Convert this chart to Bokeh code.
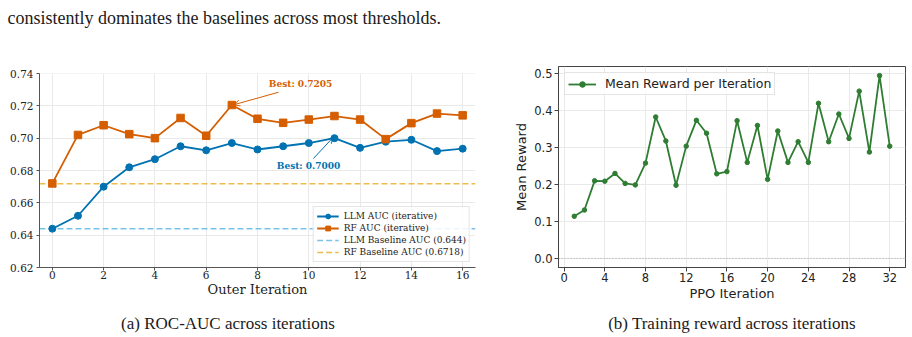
from bokeh.plotting import figure
from bokeh.layouts import row, column
from bokeh.models import (Range1d, Label, Arrow, OpenHead, Span, FixedTicker,
                          NumeralTickFormatter, BoxAnnotation)
from bokeh.embed import file_html
from bokeh.resources import INLINE

# ---------------- data ----------------
outer_iter = list(range(17))
llm_auc = [0.644, 0.652, 0.670, 0.682, 0.687, 0.695, 0.6925, 0.697, 0.693, 0.695,
           0.697, 0.700, 0.694, 0.6978, 0.699, 0.692, 0.6935]
rf_auc = [0.672, 0.702, 0.708, 0.7025, 0.700, 0.7125, 0.7015, 0.7205, 0.712, 0.7095,
          0.7115, 0.7137, 0.7115, 0.6994, 0.7093, 0.7152, 0.7141]
llm_baseline = 0.644
rf_baseline = 0.6718
best_llm = 0.7000
best_rf = 0.7205
best_llm_iter = 11
best_rf_iter = 7

ppo_iter = list(range(1, 33))
mean_reward = [0.114, 0.131, 0.210, 0.209, 0.230, 0.203, 0.199, 0.258, 0.383, 0.318,
               0.198, 0.304, 0.374, 0.339, 0.229, 0.235, 0.373, 0.260, 0.360, 0.214,
               0.345, 0.260, 0.316, 0.260, 0.420, 0.316, 0.391, 0.325, 0.453, 0.288,
               0.495, 0.304]
zero_ref = 0.0

left_ylim = (0.62, 0.74)
left_xticks = [0, 2, 4, 6, 8, 10, 12, 14, 16]
left_yticks = [0.62, 0.64, 0.66, 0.68, 0.70, 0.72, 0.74]
right_xticks = [0, 4, 8, 12, 16, 20, 24, 28, 32]
right_yticks = [0.0, 0.1, 0.2, 0.3, 0.4, 0.5]

top_text = "consistently dominates the baselines across most thresholds."
caption_a = "(a) ROC-AUC across iterations"
caption_b = "(b) Training reward across iterations"

BLUE = "#0072B2"
ORANGE = "#D55E00"
LBLUE = "#56B4E9"
YELLOW = "#E69F00"
GREEN = "#2E7D32"
TXT = "#1a1a1a"

ROW_TOP = 55      # page y where chart row starts
ROW_BOTTOM = 310  # page y where chart row ends
FRAME_TOP = 66    # shared frame top (row aligns plot borders)
FRAME_BOTTOM = 267
LEFT_AXIS_TOP = 73  # where the left chart's axes really end


def text_strip(width, height):
    f = figure(width=width, height=height, x_range=Range1d(0, width), y_range=Range1d(0, height),
               min_border=0, output_backend="svg", toolbar_location=None)
    f.axis.visible = False
    f.grid.visible = False
    f.outline_line_color = None
    return f


# ---------------- top text strip ----------------
top = text_strip(912, ROW_TOP)
top.add_layout(Label(x=7, y=ROW_TOP - 17, text=top_text, text_font="Liberation Serif",
                     text_font_size="18px", text_color=TXT, text_baseline="alphabetic"))

# ---------------- left chart ----------------
xl = (-0.5, 16.5)
fh = FRAME_BOTTOM - FRAME_TOP
axis_px = FRAME_BOTTOM - LEFT_AXIS_TOP
ytop = left_ylim[0] + (left_ylim[1] - left_ylim[0]) * fh / axis_px
p1 = figure(frame_width=436, frame_height=fh, min_border_left=39, min_border_right=15,
            min_border_top=FRAME_TOP - ROW_TOP, min_border_bottom=ROW_BOTTOM - FRAME_BOTTOM,
            x_range=Range1d(*xl), y_range=Range1d(left_ylim[0], ytop),
            output_backend="svg", toolbar_location=None)
p1.outline_line_color = None
p1.grid.grid_line_color = "#e9e9e9"
p1.xaxis.ticker = FixedTicker(ticks=left_xticks)
p1.yaxis.ticker = FixedTicker(ticks=left_yticks)
p1.yaxis.formatter = NumeralTickFormatter(format="0.00")
p1.yaxis.bounds = left_ylim
for ax in (p1.xaxis[0], p1.yaxis[0]):
    ax.axis_line_color = "#555555"
    ax.major_tick_line_color = "#555555"
    ax.minor_tick_line_color = None
    ax.major_tick_out = 3
    ax.major_tick_in = 0
    ax.major_label_text_font = "DejaVu Serif"
    ax.major_label_text_font_size = "10.5px"
    ax.major_label_text_color = "#222222"
p1.yaxis.major_label_standoff = 3
p1.xaxis.major_label_standoff = 0
p1.xaxis.axis_label = "Outer Iteration"
p1.xaxis.axis_label_text_font = "DejaVu Serif"
p1.xaxis.axis_label_text_font_size = "13px"
p1.xaxis.axis_label_text_font_style = "normal"
p1.xaxis.axis_label_text_color = "#222222"
p1.xaxis.axis_label_standoff = 0
# blank the strip above the y-limit so the grid stops at 0.74
p1.add_layout(BoxAnnotation(bottom=left_ylim[1], fill_color="white", fill_alpha=1.0,
                            line_color=None, level="underlay"))

p1.line(list(xl), [llm_baseline, llm_baseline], line_color=LBLUE, line_width=1.5, line_alpha=0.8,
        line_dash="6 3", legend_label="LLM Baseline AUC (0.644)")
p1.line(list(xl), [rf_baseline, rf_baseline], line_color=YELLOW, line_width=1.5, line_alpha=0.7,
        line_dash="6 3", legend_label="RF Baseline AUC (0.6718)")
p1.line(outer_iter, llm_auc, line_color=BLUE, line_width=1.8, legend_label="LLM AUC (iterative)")
p1.scatter(outer_iter, llm_auc, marker="circle", size=7, color=BLUE, legend_label="LLM AUC (iterative)")
p1.line(outer_iter, rf_auc, line_color=ORANGE, line_width=1.8, legend_label="RF AUC (iterative)")
p1.scatter(outer_iter, rf_auc, marker="square", size=7.5, color=ORANGE, legend_label="RF AUC (iterative)")

lg = p1.legend[0]
items = {it.label.value: it for it in lg.items}
lg.items = [items["LLM AUC (iterative)"], items["RF AUC (iterative)"],
            items["LLM Baseline AUC (0.644)"], items["RF Baseline AUC (0.6718)"]]
lg.location = "bottom_right"
lg.margin = 5
lg.padding = 3
lg.spacing = 0
lg.label_text_font = "DejaVu Serif"
lg.label_text_font_size = "9px"
lg.label_text_color = "#222222"
lg.label_height = 12
lg.glyph_height = 12
lg.glyph_width = 22
lg.label_standoff = 5
lg.border_line_color = "#cccccc"
lg.background_fill_alpha = 0.85

p1.add_layout(Label(x=9.68, y=0.7332, text="Best: %.4f" % best_rf, text_align="center",
                    text_baseline="middle", text_font="DejaVu Serif", text_font_style="bold",
                    text_font_size="9px", text_color=ORANGE))
p1.add_layout(Arrow(x_start=8.82, y_start=0.7284, x_end=best_rf_iter + 0.08, y_end=best_rf + 0.0002,
                    line_color=ORANGE, line_width=1,
                    end=OpenHead(size=6, line_color=ORANGE, line_width=1)))
p1.add_layout(Label(x=9.99, y=0.6825, text="Best: %.4f" % best_llm, text_align="center",
                    text_baseline="middle", text_font="DejaVu Serif", text_font_style="bold",
                    text_font_size="9px", text_color=BLUE))
p1.add_layout(Arrow(x_start=10.18, y_start=0.6874, x_end=best_llm_iter - 0.05, y_end=best_llm + 0.0005,
                    line_color=BLUE, line_width=1,
                    end=OpenHead(size=6, line_color=BLUE, line_width=1)))

# ---------------- right chart ----------------
p2 = figure(frame_width=347, frame_height=fh, min_border_left=68, min_border_right=7,
            min_border_top=FRAME_TOP - ROW_TOP, min_border_bottom=ROW_BOTTOM - FRAME_BOTTOM,
            x_range=Range1d(-0.55, 33.55), y_range=Range1d(-0.02475, 0.51975),
            output_backend="svg", toolbar_location=None)
p2.outline_line_color = "#444444"
p2.grid.grid_line_color = "#e9e9e9"
p2.xaxis.ticker = FixedTicker(ticks=right_xticks)
p2.yaxis.ticker = FixedTicker(ticks=right_yticks)
p2.yaxis.formatter = NumeralTickFormatter(format="0.0")
for ax in (p2.xaxis[0], p2.yaxis[0]):
    ax.axis_line_color = "#444444"
    ax.major_tick_line_color = "#444444"
    ax.minor_tick_line_color = None
    ax.major_tick_out = 4
    ax.major_tick_in = 0
    ax.major_label_text_font = "DejaVu Sans"
    ax.major_label_text_font_size = "11.5px"
    ax.major_label_text_color = "#222222"
    ax.axis_label_text_font = "DejaVu Sans"
    ax.axis_label_text_font_size = "13px"
    ax.axis_label_text_font_style = "normal"
    ax.axis_label_text_color = "#222222"
p2.xaxis.major_label_standoff = 1
p2.yaxis.major_label_standoff = 2
p2.xaxis.axis_label = "PPO Iteration"
p2.yaxis.axis_label = "Mean Reward"
p2.xaxis.axis_label_standoff = 1
p2.yaxis.axis_label_standoff = 2

p2.add_layout(Span(location=zero_ref, dimension="width", line_color="#999999",
                   line_width=0.8, line_dash="1 2"))
p2.line(ppo_iter, mean_reward, line_color=GREEN, line_width=1.8, legend_label="Mean Reward per Iteration")
p2.scatter(ppo_iter, mean_reward, marker="circle", size=4.5, color=GREEN,
           legend_label="Mean Reward per Iteration")
lg2 = p2.legend[0]
lg2.location = "top_left"
lg2.margin = 6
lg2.padding = 3
lg2.label_text_font = "DejaVu Sans"
lg2.label_text_font_size = "12.5px"
lg2.label_text_color = "#222222"
lg2.label_height = 14
lg2.glyph_height = 14
lg2.glyph_width = 28
lg2.label_standoff = 9
lg2.border_line_color = "#cccccc"
lg2.background_fill_alpha = 0.85

# ---------------- caption strip ----------------
cap_h = 337 - ROW_BOTTOM
cap = text_strip(912, cap_h)
cap.add_layout(Label(x=227.5, y=337 - 323, text=caption_a, text_align="center",
                     text_font="Liberation Serif", text_font_size="17px", text_color=TXT,
                     text_baseline="alphabetic"))
cap.add_layout(Label(x=731.5, y=337 - 323, text=caption_b, text_align="center",
                     text_font="Liberation Serif", text_font_size="17px", text_color=TXT,
                     text_baseline="alphabetic"))

layout = column(top, row(p1, p2), cap)
open("out.html", "w").write(file_html(layout, INLINE))
